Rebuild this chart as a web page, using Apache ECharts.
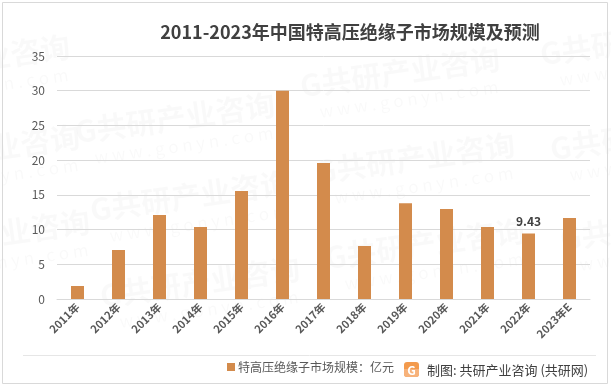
<!DOCTYPE html>
<html>
<head>
<meta charset="utf-8">
<script src="https://cdn.jsdelivr.net/npm/echarts@6/dist/echarts.min.js"></script>
<style>
html,body{margin:0;padding:0;background:#fff;}
#chart{width:611px;height:389px;}
</style>
</head>
<body>
<div id="chart"></div>
<script>
var categories = ['2011年','2012年','2013年','2014年','2015年','2016年','2017年','2018年','2019年','2020年','2021年','2022年','2023年E'];
var marketSize = [1.87, 7.06, 12.1, 10.37, 15.55, 30.0, 19.6, 7.63, 13.8, 12.96, 10.37, 9.43, 11.67];
var labeledIndex = [11];
var yTicks = [0, 5, 10, 15, 20, 25, 30, 35];
var titleText = '2011-2023年中国特高压绝缘子市场规模及预测';
var seriesName = '特高压绝缘子市场规模：亿元';
var sourceText = '制图: 共研产业咨询 (共研网)';

var FONT = '"Noto Sans CJK SC", "Noto Sans", sans-serif';
var chart = echarts.init(document.getElementById('chart'), null, {renderer: 'canvas'});

var wm = [];
var wmPos = [[175,118],[190,196],[200,282],[400,72],[415,158],[425,244],[640,40],[650,135],[660,225],[-30,60],[-20,150],[-10,235]];
wmPos.forEach(function(p){
  wm.push({
    type: 'group', x: p[0], y: p[1], rotation: 8*Math.PI/180, silent: true, z: 0,
    children: [
      {type:'text', style:{text:'G共研产业咨询', x:0, y:0, align:'center', verticalAlign:'middle', font:'bold 30px ' + FONT, fill:'rgba(0,0,0,0.025)'}},
      {type:'text', style:{text:'w w w . g o n y n . c o m', x:5, y:28, align:'center', verticalAlign:'middle', font:'17px ' + FONT, fill:'rgba(0,0,0,0.025)'}}
    ]
  });
});

var option = {
  backgroundColor: '#fff',
  animation: false,
  title: {
    text: titleText,
    left: 345, top: 18, textAlign: 'center',
    textStyle: {fontFamily: FONT, fontSize: 18, fontWeight: 'bold', color: '#404040'}
  },
  legend: {
    data: [seriesName],
    left: 222, top: 356,
    itemWidth: 8, itemHeight: 8, itemGap: 4,
    icon: 'rect',
    textStyle: {fontFamily: FONT, fontSize: 12, color: '#595959', padding: [0,0,0,-2]}
  },
  grid: {left: 57, right: 21, top: 56, bottom: 90, containLabel: false},
  xAxis: {
    type: 'category',
    data: categories,
    axisLine: {lineStyle: {color: '#d9d9d9'}},
    axisTick: {show: false},
    axisLabel: {rotate: 45, interval: 0, fontFamily: FONT, fontSize: 11, fontWeight: 'bold', color: '#595959', margin: 6}
  },
  yAxis: {
    type: 'value',
    min: yTicks[0], max: yTicks[yTicks.length-1], interval: yTicks[1]-yTicks[0],
    axisLine: {show: false},
    axisTick: {show: false},
    splitLine: {lineStyle: {color: '#d9d9d9', width: 1}},
    axisLabel: {fontFamily: FONT, fontSize: 12, color: '#595959', margin: 12}
  },
  series: [{
    name: seriesName,
    type: 'bar',
    data: marketSize.map(function(v, i){
      return labeledIndex.indexOf(i) >= 0 ? {value: v, label: {show: true}} : v;
    }),
    barWidth: 13,
    itemStyle: {color: '#D38B4C'},
    label: {show: false, position: 'top', distance: 6, fontFamily: FONT, fontSize: 12, fontWeight: 'bold', color: '#404040'},
    z: 3
  }],
  graphic: wm.concat([
    {type:'rect', shape:{x:2.5, y:2.5, width:605, height:381}, style:{fill:'none', stroke:'#d9d9d9', lineWidth:1}, silent:true, z: 1},
    {type:'line', shape:{x1:23, y1:355.5, x2:596, y2:355.5}, style:{stroke:'#e6e6e6', lineWidth:1}, silent:true},
    {type:'group', x:404, y:362, children:[
      {type:'rect', shape:{x:0, y:0, width:15, height:15, r:3}, style:{fill:'#F39A4C'}},
      {type:'rect', shape:{x:0, y:7, width:15, height:8, r:[0,0,3,3]}, style:{fill:'#F7B27A'}},
      {type:'text', style:{text:'G', x:7.5, y:8, align:'center', verticalAlign:'middle', font:'bold 12px ' + FONT, fill:'#fff'}}
    ]},
    {type:'text', style:{text: sourceText, x:427, y:370, verticalAlign:'middle', font:'13px ' + FONT, fill:'#404040'}}
  ])
};
chart.setOption(option);
</script>
</body>
</html>
